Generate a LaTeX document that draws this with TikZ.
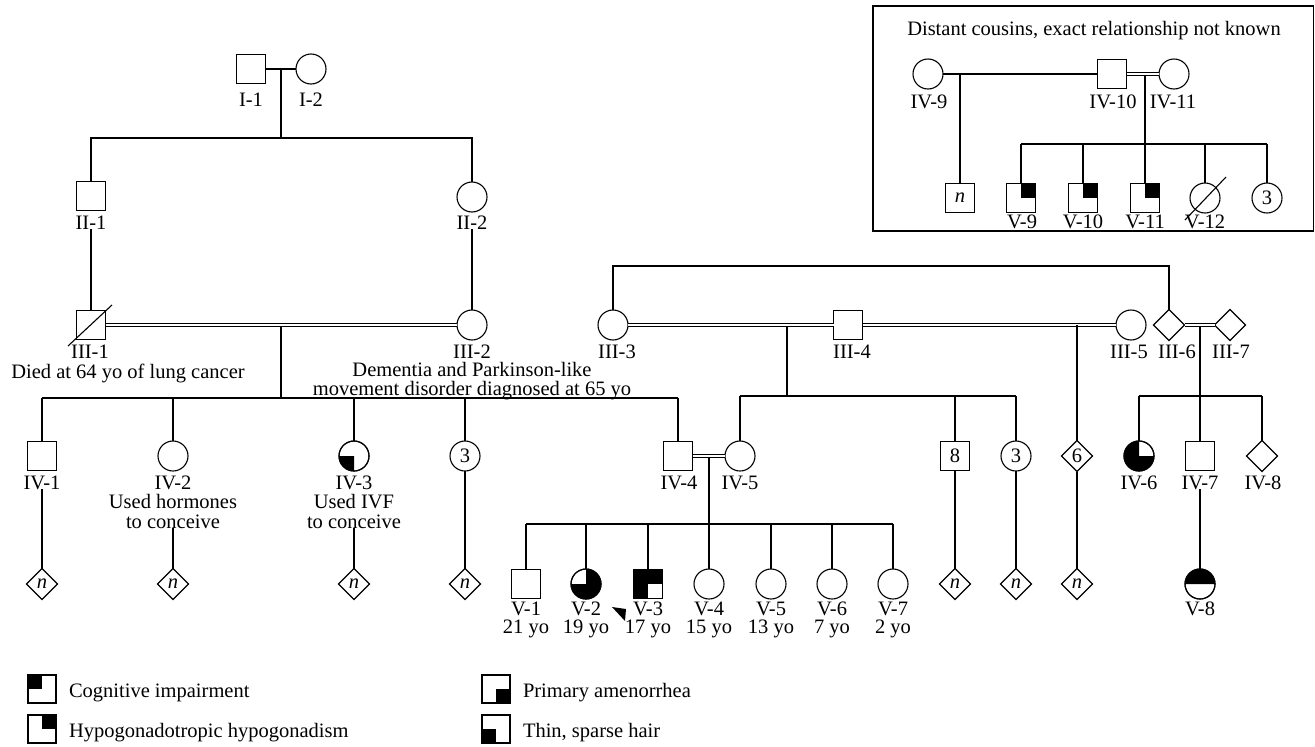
\documentclass[tikz,border=0pt]{standalone}
\usepackage{fontspec}
\setmainfont{Liberation Serif}
\usetikzlibrary{shapes.geometric}
\newcommand\pedfont{\fontsize{20.5}{22}\selectfont}
\newcommand\sqUL[1]{\fill (#1.center) rectangle (#1.north west);}
\newcommand\sqUR[1]{\fill (#1.center) rectangle (#1.north east);}
\newcommand\sqLL[1]{\fill (#1.center) rectangle (#1.south west);}
\newcommand\sqLR[1]{\fill (#1.center) rectangle (#1.south east);}
\newcommand\ciUL[1]{\fill (#1.center) -- (#1.north) arc[start angle=90,end angle=180,radius=15pt] -- cycle;}
\newcommand\ciUR[1]{\fill (#1.center) -- (#1.east) arc[start angle=0,end angle=90,radius=15pt] -- cycle;}
\newcommand\ciLL[1]{\fill (#1.center) -- (#1.west) arc[start angle=180,end angle=270,radius=15pt] -- cycle;}
\newcommand\ciLR[1]{\fill (#1.center) -- (#1.south) arc[start angle=270,end angle=360,radius=15pt] -- cycle;}
\tikzset{
  pbase/.style={draw, line width=1.1pt, inner sep=0pt, outer sep=0pt, font=\pedfont},
  msq/.style={pbase, rectangle, minimum size=29pt},
  fci/.style={pbase, circle, minimum size=30pt},
  udi/.style={pbase, diamond, aspect=1, minimum width=31pt, minimum height=31pt},
  tx/.style={anchor=base, inner sep=0pt, outer sep=0pt, font=\pedfont},
  txl/.style={anchor=base west, inner sep=0pt, outer sep=0pt, font=\pedfont},
  ln/.style={line width=1.1pt},
  dbl/.style={line width=1.1pt, double, double distance=2.2pt},
}
\begin{document}
\begin{tikzpicture}[x=1pt,y=1pt]
\useasboundingbox[fill=white] (0,0) rectangle (1315,-747);

% ---------- Generation I ----------
\node[msq] (i1) at (251,-69) {};
\node[fci] (i2) at (311,-69) {};
\node[tx] (li1) at (251,-106) {I-1};
\node[tx] (li2) at (311,-106) {I-2};
\draw[ln] (i1.east) -- (i2.west);
\coordinate (m1) at (281,-69);
\coordinate (s1) at (281,-138);
\draw[ln] (m1) -- (s1);

% ---------- Generation II ----------
\node[msq] (ii1) at (91,-196) {};
\node[fci] (ii2) at (472,-197) {};
\node[tx] (lii1) at (91,-229) {II-1};
\node[tx] (lii2) at (472,-229) {II-2};
\draw[ln] (ii1.north) |- (s1) -| (ii2.north);

% ---------- Generation III ----------
\node[msq] (iii1) at (91,-325) {};
\node[fci] (iii2) at (472,-325) {};
\node[fci] (iii3) at (613,-325) {};
\node[msq] (iii4) at (848,-325) {};
\node[fci] (iii5) at (1131,-325) {};
\node[udi] (iii6) at (1169,-325) {};
\node[udi] (iii7) at (1230,-325) {};
\draw[ln] (68,-346) -- (112,-305);
\draw[ln] (lii1.south) -- (iii1.north);
\draw[ln] (lii2.south) -- (iii2.north);

\node[tx] (liii1) at (90,-358) {III-1};
\node[tx] (liii2) at (472,-358) {III-2};
\node[tx] (liii3) at (617,-358) {III-3};
\node[tx] (liii4) at (852,-358) {III-4};
\node[tx] (liii5) at (1129,-358) {III-5};
\node[tx] (liii6) at (1177,-358) {III-6};
\node[tx] (liii7) at (1231,-358) {III-7};
\node[tx] (died) at (128,-378) {Died at 64 yo of lung cancer};
\node[tx] (dem1) at (472,-376) {Dementia and Parkinson-like};
\node[tx] (dem2) at (472,-395) {movement disorder diagnosed at 65 yo};

\coordinate (br) at (900,-266);
\draw[ln] (iii3.north) |- (br) -| (iii6.north);

\coordinate (m3a) at (281,-325);
\coordinate (s3a) at (281,-398);
\coordinate (m3b) at (787,-325);
\coordinate (s3b) at (787,-396);
\coordinate (m3c) at (1077,-325);
\coordinate (m3d) at (1200,-325);
\coordinate (s3d) at (1200,-396);
\draw[ln] (m3a) -- (s3a);
\draw[ln] (m3b) -- (s3b);
\draw[ln] (m3d) -- (s3d);
\draw[dbl] (iii1.east) -- (iii2.west);
\draw[dbl] (iii3.east) -- (iii4.west);
\draw[dbl] (iii4.east) -- (iii5.west);
\draw[dbl] (iii6.east) -- (iii7.west);

% ---------- Generation IV ----------
\node[msq] (iv1) at (42,-456) {};
\node[fci] (iv2) at (173,-456) {};
\node[fci] (iv3) at (354,-456) {};
\node[fci] (iv3n) at (465,-456) {3};
\node[msq] (iv4) at (678,-456) {};
\node[fci] (iv5) at (740,-456) {};
\node[msq] (iv8n) at (955,-456) {8};
\node[fci] (iv3m) at (1016,-456) {3};
\node[udi] (iv6n) at (1077,-456) {6};
\node[fci] (iv6) at (1139,-456) {};
\node[msq] (iv7) at (1200,-456) {};
\node[udi] (iv8) at (1262,-456) {};
\ciLL{iv3}
\ciUL{iv6}\ciLL{iv6}\ciLR{iv6}
\node[fci] at (iv3) {};
\node[fci] at (iv6) {};

\draw[ln] (s3a -| iv1.north) -- (s3a -| iv4.north);
\foreach \n in {iv1,iv2,iv3,iv3n,iv4} \draw[ln] (\n.north) -- (\n.north |- s3a);
\draw[ln] (s3b -| iv5.north) -- (s3b -| iv3m.north);
\foreach \n in {iv5,iv8n,iv3m} \draw[ln] (\n.north) -- (\n.north |- s3b);
\draw[ln] (m3c) -- (iv6n.north);
\draw[ln] (s3d -| iv6.north) -- (s3d -| iv8.north);
\foreach \n in {iv6,iv7,iv8} \draw[ln] (\n.north) -- (\n.north |- s3d);

\node[tx] (liv1) at (42,-489) {IV-1};
\node[tx] (liv2) at (173,-489) {IV-2};
\node[tx] (liv2a) at (173,-508) {Used hormones};
\node[tx] (liv2b) at (173,-528) {to conceive};
\node[tx] (liv3) at (354,-489) {IV-3};
\node[tx] (liv3a) at (354,-508) {Used IVF};
\node[tx] (liv3b) at (354,-528) {to conceive};
\node[tx] (liv4) at (679,-489) {IV-4};
\node[tx] (liv5) at (740,-489) {IV-5};
\node[tx] (liv6) at (1139,-489) {IV-6};
\node[tx] (liv7) at (1200,-489) {IV-7};
\node[tx] (liv8) at (1263,-489) {IV-8};

\coordinate (m4) at (709,-456);
\coordinate (s4) at (709,-524);
\draw[ln] (m4) -- (s4);
\draw[dbl] (iv4.east) -- (iv5.west);

% ---------- Generation V ----------
\node[msq] (v1) at (526,-584) {};
\node[fci] (v2) at (586,-584) {};
\node[msq] (v3) at (648,-584) {};
\node[fci] (v4) at (709,-584) {};
\node[fci] (v5) at (771,-584) {};
\node[fci] (v6) at (832,-584) {};
\node[fci] (v7) at (893,-584) {};
\node[fci] (v8) at (1200,-584) {};
\ciUR{v2}\ciLL{v2}\ciLR{v2}
\sqUL{v3}\sqUR{v3}\sqLL{v3}
\fill (v8.west) arc[start angle=180,end angle=0,radius=15pt] -- cycle;
\node[fci] at (v2) {};
\node[msq] at (v3) {};
\node[fci] at (v8) {};

\draw[ln] (s4 -| v1.north) -- (s4 -| v7.north);
\foreach \n in {v1,v2,v3,v4,v5,v6,v7} \draw[ln] (\n.north) -- (\n.north |- s4);

\foreach \n/\x/\a in {1/526/21,2/586/19,3/648/17,4/709/15,5/771/13,6/832/7,7/893/2}{
  \node[tx] (lv\n) at (\x,-615) {V-\n};
  \node[tx] (av\n) at (\x,-633) {\a\ yo};
}
\node[tx] (lv8) at (1200,-615) {V-8};
\fill (612,-607) -- (626,-609) -- (625,-621) -- cycle;

\node[udi] (nd1) at (42,-584) {\textit{n}};
\node[udi] (nd2) at (173,-584) {\textit{n}};
\node[udi] (nd3) at (354,-584) {\textit{n}};
\node[udi] (nd4) at (465,-584) {\textit{n}};
\node[udi] (nd5) at (955,-584) {\textit{n}};
\node[udi] (nd6) at (1016,-584) {\textit{n}};
\node[udi] (nd7) at (1077,-584) {\textit{n}};
\draw[ln] (liv1.south) -- (nd1.north);
\draw[ln] (liv2b.south) -- (nd2.north);
\draw[ln] (liv3b.south) -- (nd3.north);
\draw[ln] (iv3n.south) -- (nd4.north);
\draw[ln] (iv8n.south) -- (nd5.north);
\draw[ln] (iv3m.south) -- (nd6.north);
\draw[ln] (iv6n.south) -- (nd7.north);
\draw[ln] (liv7.south) -- (v8.north);

% ---------- Inset ----------
\draw[ln] (873,-6) rectangle (1313.5,-231);
\node[tx] (ttl) at (1094,-35) {Distant cousins, exact relationship not known};
\node[fci] (iv9) at (928,-74) {};
\node[msq] (iv10) at (1112,-74) {};
\node[fci] (iv11) at (1174,-74) {};
\node[tx] (liv9) at (929,-108) {IV-9};
\node[tx] (liv10) at (1113,-108) {IV-10};
\node[tx] (liv11) at (1173,-108) {IV-11};
\draw[ln] (iv9.east) -- (iv10.west);
\coordinate (m5a) at (960,-74);
\node[msq] (nn) at (960,-198) {\textit{n}};
\draw[ln] (m5a) -- (nn.north);
\coordinate (m5b) at (1145,-74);
\coordinate (s5) at (1145,-144);
\draw[ln] (m5b) -- (s5);
\draw[dbl] (iv10.east) -- (iv11.west);
\node[msq] (v9) at (1021,-198) {};
\node[msq] (v10) at (1083,-198) {};
\node[msq] (v11) at (1145,-198) {};
\node[fci] (v12) at (1205,-198) {};
\node[fci] (v12b) at (1267,-198) {3};
\sqUR{v9}\sqUR{v10}\sqUR{v11}
\draw[ln] (s5 -| v9.north) -- (s5 -| v12b.north);
\foreach \n in {v9,v10,v11,v12,v12b} \draw[ln] (\n.north) -- (\n.north |- s5);
\draw[ln] (1185,-220) -- (1226,-177);
\node[tx] (lv9) at (1022,-228) {V-9};
\node[tx] (lv10) at (1083,-228) {V-10};
\node[tx] (lv11) at (1145,-228) {V-11};
\node[tx] (lv12) at (1205,-228) {V-12};

% ---------- Legend ----------
\node[msq, minimum size=28pt] (k1) at (42,-689) {};
\node[msq, minimum size=28pt] (k2) at (42,-729) {};
\node[msq, minimum size=28pt] (k3) at (496,-689) {};
\node[msq, minimum size=28pt] (k4) at (496,-729) {};
\sqUL{k1}\sqUR{k2}\sqLR{k3}\sqLL{k4}
\node[txl] (t1) at (69,-697) {Cognitive impairment};
\node[txl] (t2) at (69,-737) {Hypogonadotropic hypogonadism};
\node[txl] (t3) at (523,-697) {Primary amenorrhea};
\node[txl] (t4) at (523,-737) {Thin, sparse hair};
\end{tikzpicture}
\end{document}
